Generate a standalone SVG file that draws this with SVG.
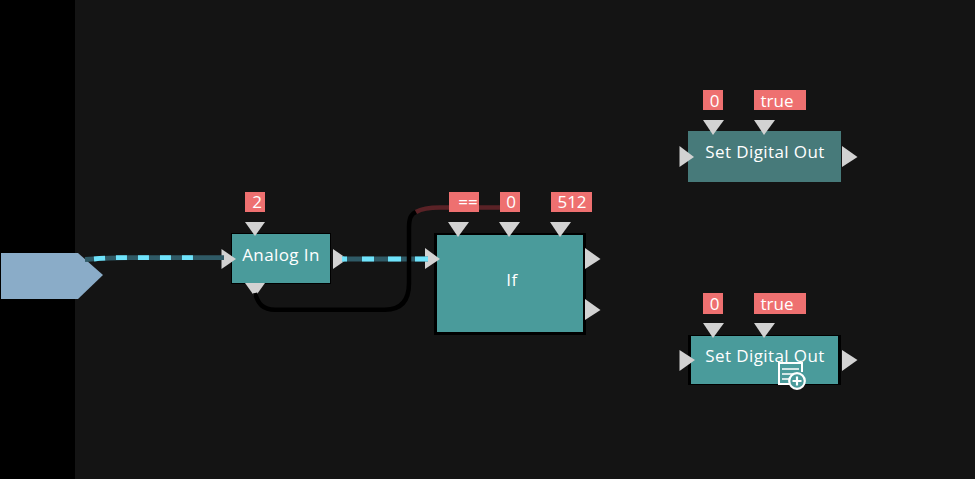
<svg xmlns="http://www.w3.org/2000/svg" width="975" height="479" viewBox="0 0 975 479">
<style>
text{font-family:"Open Sans","Noto Sans","Liberation Sans",sans-serif;fill:#fff;text-anchor:middle}
.n{font-size:17px;letter-spacing:.4px}.v{font-size:17px}
.b{fill:#4a9b9b}.k{fill:#000}
.lab{fill:#ee7070}.p{fill:#d2d2d2}
.w{fill:none;stroke-linecap:butt}
</style>
<rect width="975" height="479" fill="#141414"/>
<rect width="75" height="479" fill="#000"/>
<g id="source"><polygon points="1,253 78,253 103,275 78,299 1,299" fill="#8aacc8"/></g>
<g id="analog-in">
<rect class="k" x="231" y="233" width="100" height="51"/>
<rect class="b" x="232" y="234" width="98" height="49"/>
<text class="n" x="281" y="261">Analog In</text>
<polygon class="p" points="245,222 265,222 255,236"/>
<polygon class="p" points="221.500,249 221.500,269 236,259"/>
<polygon class="p" points="333,249 333,269 347.500,259"/>
<polygon class="p" points="245,283 265,283 255,297"/>
</g>
<g id="if">
<rect class="k" x="434" y="233" width="152" height="102"/>
<rect class="b" x="437" y="235" width="146" height="97"/>
<text class="n" x="512" y="286">If</text>
<polygon class="p" points="448,222 469,222 458,237"/>
<polygon class="p" points="499,222 520,222 509,237"/>
<polygon class="p" points="550,222 571,222 560,237"/>
<polygon class="p" points="425,248 425,269 440,259"/>
<polygon class="p" points="585,248 585,269 600.500,259"/>
<polygon class="p" points="585,299 585,320 600.500,310"/>
</g>
<g id="set-digital-out-1">
<rect x="688" y="131" width="153" height="51" fill="#477a7a"/>
<text class="n" x="765" y="158">Set Digital Out</text>
<polygon class="p" points="703,120 724,120 713,135"/>
<polygon class="p" points="754,120 775,120 764,135"/>
<polygon class="p" points="679.500,146 679.500,167 694,157"/>
<polygon class="p" points="842,146 842,167 857.500,157"/>
</g>
<g id="set-digital-out-2">
<rect class="k" x="688" y="335" width="153" height="50"/>
<rect class="b" x="691" y="336" width="147" height="48"/>
<text class="n" x="765" y="362">Set Digital Out</text>
<polygon class="p" points="703,323 724,323 713,338"/>
<polygon class="p" points="754,323 775,323 764,338"/>
<polygon class="p" points="679.500,350 679.500,371 695,360"/>
<polygon class="p" points="842,350 842,371 857.500,360"/>
</g>
<g id="connectors">
<path class="w" d="M85 259.500C100 258.500 115 257.700 130 257.700L224 257.700" stroke="#2f5a66" stroke-width="4.800"/>
<path class="w" d="M94 259C103 258.200 110 257.900 116 257.700L194 257.700" stroke="#6fe3fb" stroke-width="4.800" stroke-dasharray="11 11"/>
<path class="w" d="M342 259L428 259" stroke="#2f5a66" stroke-width="4.800"/>
<path class="w" d="M342 259H347M362 259H374M388 259H401M415 259H428" stroke="#6fe3fb" stroke-width="4.800"/>
<path class="w" d="M255 293C258 304 263 309.700 275 309.700L385 309.700C402 309.700 409 300 409 283L409 228C409 218 411 214 416 212" stroke="#000" stroke-width="4.500"/>
<path class="w" d="M416 212C422 208.500 430 207.600 440 207.600L502 207.600" stroke="#5a2226" stroke-width="4.500"/>
</g>
<g id="values">
<rect class="lab" x="245" y="192" width="20" height="20"/><text class="v" x="257" y="208">2</text>
<rect class="lab" x="449" y="192" width="30" height="20"/><text class="v" x="468" y="208">==</text>
<rect class="lab" x="500" y="192" width="20" height="20"/><text class="v" x="511" y="208">0</text>
<rect class="lab" x="551" y="192" width="41" height="20"/><text class="v" x="572" y="208">512</text>
<rect class="lab" x="703" y="90" width="20" height="20"/><text class="v" x="714.500" y="106.500">0</text>
<rect class="lab" x="754" y="90" width="52" height="20"/><text class="v" x="777" y="106.500">true</text>
<rect class="lab" x="703" y="293" width="20" height="21"/><text class="v" x="714.500" y="310">0</text>
<rect class="lab" x="754" y="293" width="52" height="21"/><text class="v" x="777" y="310">true</text>
</g>
<g id="cursor" fill="none" stroke="#fff" stroke-width="2">
<path d="M790 384L779 384L779 363L802 363L802 372"/>
<path d="M782 369H799M782 374H793M782 379H789" stroke-width="1.500"/>
<circle cx="797" cy="381" r="7.800" fill="#4a9b9b" stroke-width="2.200"/>
<path d="M792.500 381H801.500M797 376.500V385.500" stroke-width="2.200"/>
</g>
</svg>
